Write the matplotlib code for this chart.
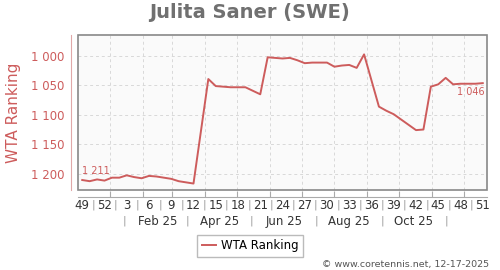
import numpy as np
import pandas as pd
import matplotlib
matplotlib.use("Agg")
import matplotlib.pyplot as plt
import matplotlib.dates as mdates
from matplotlib.patches import Rectangle
from matplotlib.ticker import FuncFormatter

# weekly WTA ranking, first value is week 49 of 2024
start = "2024-12-06"
ranks = [1211, 1213, 1210, 1212, 1207, 1207, 1203, 1206, 1208, 1204,
         1205, 1207, 1209, 1213, 1215, 1217, np.nan, 1039, 1051, 1052,
         1053, 1053, 1053, 1059, 1065, 1002, 1003, 1004, 1003, 1007,
         1012, 1011, 1011, 1011, 1018, 1016, 1015, 1020, 997, np.nan,
         1086, 1093, 1099, 1108, 1117, 1126, 1125, 1052, 1048, 1037,
         1048, 1047, 1047, 1047, 1046]
yticks = [1000, 1050, 1100, 1150, 1200]
month_labels = ["Feb 25", "Apr 25", "Jun 25", "Aug 25", "Oct 25"]
month_label_dates = ["2025-02-15", "2025-04-15", "2025-06-15", "2025-08-15", "2025-10-15"]
month_sep_dates = ["2025-01-15", "2025-03-15", "2025-05-15", "2025-07-15", "2025-09-15", "2025-11-15"]
series_name = "WTA Ranking"
player = "Julita Saner (SWE)"
footer = "© www.coretennis.net, 12-17-2025"

red = "#cd5c5c"
dates = pd.date_range(start, periods=len(ranks), freq="7D")
x = mdates.date2num(dates)
y = np.array(ranks, dtype=float)
ok = ~np.isnan(y)
weeks = dates.isocalendar().week.values

fig = plt.figure(figsize=(5, 2.7), dpi=100)
ax = fig.add_axes([78 / 500, 80 / 270, 409 / 500, 155 / 270])
ax.set_facecolor("#fafafa")

ax.plot(x[ok], y[ok], color=red, lw=1.4, label=series_name)
ax.set_ylim(1228, 964)
ax.set_xlim(x[0] - 4, x[-1] + 4)

# frame + offset axis lines
ax.add_patch(Rectangle((0, 0), 1, 1, transform=ax.transAxes, fill=False,
                       edgecolor="#888888", lw=1.2, clip_on=False, zorder=5))
for s in ["top", "right"]:
    ax.spines[s].set_visible(False)
ax.spines["left"].set_position(("outward", 5))
ax.spines["left"].set_color("#e0a8a8")
ax.spines["bottom"].set_position(("outward", 5))
ax.spines["bottom"].set_color("#aaaaaa")

ax.set_yticks(yticks)
ax.yaxis.set_major_formatter(FuncFormatter(lambda v, p: f"{v:,.0f}".replace(",", " ")))
ax.tick_params(axis="y", length=0, pad=5, labelsize=8.5, labelcolor=red)

ax.xaxis.set_major_locator(mdates.MonthLocator())
ax.tick_params(axis="x", direction="in", length=4, color="#aaaaaa", labelbottom=False)
ax.grid(True, color="#d8d8d8", ls=(0, (3, 3)), lw=0.7)

ax.set_ylabel(series_name, color=red, fontsize=11)
ax.yaxis.set_label_coords(-0.139, 0.5)

# week labels with separators
wk = ax.secondary_xaxis(-5 / 155)
wk.spines["bottom"].set_visible(False)
wk.set_xticks(x[::3])
wk.set_xticklabels([str(w) for w in weeks[::3]])
wk.set_xticks(x[:-3:3] + 10.5, minor=True)
wk.set_xticklabels(["|"] * len(x[:-3:3]), minor=True)
wk.tick_params(axis="x", which="both", length=0, pad=3, labelsize=8.5, labelcolor="#333333")
wk.tick_params(axis="x", which="minor", labelcolor="#999999", labelsize=7.5)

# month labels with separators
mo = ax.secondary_xaxis(-21 / 155)
mo.spines["bottom"].set_visible(False)
mo.set_xticks(mdates.date2num(pd.to_datetime(month_label_dates)))
mo.set_xticklabels(month_labels)
mo.set_xticks(mdates.date2num(pd.to_datetime(month_sep_dates)), minor=True)
mo.set_xticklabels(["|"] * len(month_sep_dates), minor=True)
mo.tick_params(axis="x", which="both", length=0, pad=3, labelsize=8.5, labelcolor="#333333")
mo.tick_params(axis="x", which="minor", labelcolor="#999999", labelsize=7.5)

ax.annotate(f"{ranks[0]:,}".replace(",", " "), (x[0], y[0]), xytext=(0, 3),
            textcoords="offset points", ha="left", va="bottom", fontsize=7, color=red)
ax.annotate(f"{ranks[-1]:,}".replace(",", " "), (x[-1], y[-1]), xytext=(1, -3),
            textcoords="offset points", ha="right", va="top", fontsize=7, color=red)

fig.text(0.5, 1 - 13 / 270, player, ha="center", va="center", fontsize=14,
         fontweight="bold", color="#707070")
fig.legend(loc="center", bbox_to_anchor=(0.5, 1 - 246 / 270), fontsize=8.5,
           frameon=True, fancybox=False, edgecolor="#aaaaaa", handlelength=1.2,
           handletextpad=0.4, borderpad=0.4)
fig.text(489 / 500, 1 - 264 / 270, footer, ha="right", va="center", fontsize=6.8,
         color="#555555")

fig.savefig("out.png", dpi=100)
